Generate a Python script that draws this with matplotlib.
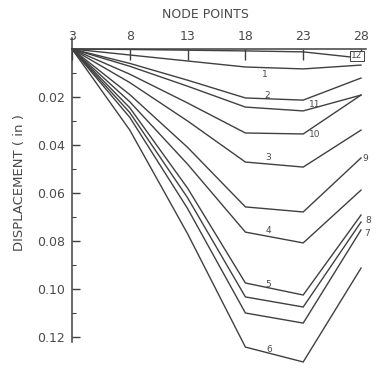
import matplotlib
matplotlib.use("Agg")
import matplotlib.pyplot as plt
from matplotlib.ticker import FixedLocator

# ---- data ----
nodes = [3, 8, 13, 18, 23, 28]
curve_1 = [0, 0.0025, 0.0050, 0.0075, 0.0083, 0.0067]
curve_2 = [0, 0.0060, 0.0130, 0.0204, 0.0213, 0.0121]
curve_3 = [0, 0.0140, 0.0300, 0.0471, 0.0492, 0.0338]
curve_4 = [0, 0.0220, 0.0480, 0.0763, 0.0808, 0.0588]
curve_5 = [0, 0.0245, 0.0580, 0.0975, 0.1025, 0.0692]
curve_6 = [0, 0.0338, 0.0770, 0.1242, 0.1304, 0.0913]
curve_7 = [0, 0.0285, 0.0665, 0.1100, 0.1142, 0.0754]
curve_8 = [0, 0.0265, 0.0620, 0.1033, 0.1075, 0.0721]
curve_9 = [0, 0.0190, 0.0410, 0.0658, 0.0679, 0.0454]
curve_10 = [0, 0.0105, 0.0225, 0.0350, 0.0354, 0.0192]
curve_11 = [0, 0.0072, 0.0155, 0.0242, 0.0258, 0.0192]
curve_12 = [0, 0.0002, 0.0005, 0.0008, 0.0012, 0.0038]
curve_names = ["1", "2", "3", "4", "5", "6", "7", "8", "9", "10", "11", "12"]
curves = [curve_1, curve_2, curve_3, curve_4, curve_5, curve_6,
          curve_7, curve_8, curve_9, curve_10, curve_11, curve_12]
x_ticks = [3, 8, 13, 18, 23, 28]
y_ticks = [0.02, 0.04, 0.06, 0.08, 0.10, 0.12]
y_tick_labels = ["0.02", "0.04", "0.06", "0.08", "0.10", "0.12"]
y_minor = [0.01, 0.03, 0.05, 0.07, 0.09, 0.11]
# label anchor positions (node, displacement)
label_pos = {
    "1": (19.7, 0.0108), "2": (19.9, 0.0192), "3": (20.0, 0.0454),
    "4": (20.0, 0.0758), "5": (20.0, 0.0980), "6": (20.1, 0.1254),
    "7": (28.5, 0.0767), "8": (28.6, 0.0713), "9": (28.35, 0.0458),
    "10": (24.0, 0.0358), "11": (24.0, 0.0233), "12": (27.65, 0.0029),
}

line_col = "#404040"
text_col = "#4a4a4a"

fig = plt.figure(figsize=(3.79, 3.70), dpi=100)
ax = fig.add_axes([0.19, 0.0081, 0.7747, 0.8984])

for vals in curves:
    ax.plot(nodes, vals, color=line_col, lw=1.0, clip_on=False, solid_joinstyle="miter")

for name in curve_names:
    xx, yy = label_pos[name]
    kw = {}
    if name == "12":
        kw["bbox"] = dict(boxstyle="square,pad=0.1", fc="white", ec=line_col, lw=0.7)
    ax.text(xx, yy, name, fontsize=6.5, color=text_col, ha="center", va="center", **kw)

ax.set_xlim(3, 28.4)
ax.set_ylim(0.1325, -0.006)

ax.spines["right"].set_visible(False)
ax.spines["bottom"].set_visible(False)
ax.spines["top"].set_position(("data", 0))
ax.spines["left"].set_bounds(-0.0045, 0.122)
for s in ("top", "left"):
    ax.spines[s].set_color(line_col)
    ax.spines[s].set_linewidth(1.1)

ax.xaxis.set_ticks_position("top")
ax.xaxis.set_label_position("top")
ax.set_xticks(x_ticks)
ax.set_xticklabels([str(v) for v in x_ticks])
ax.tick_params(axis="x", direction="in", length=8, width=1.0, color=line_col,
               labelsize=9, labelcolor=text_col, pad=4)

ax.yaxis.set_major_locator(FixedLocator(y_ticks))
ax.set_yticklabels(y_tick_labels)
ax.yaxis.set_minor_locator(FixedLocator(y_minor))
ax.tick_params(axis="y", which="major", direction="in", length=6, width=1.0,
               color=line_col, labelsize=9, labelcolor=text_col, pad=5)
ax.tick_params(axis="y", which="minor", direction="in", length=3, width=0.8,
               color=line_col)

fig.text(205 / 379, 1 - 14 / 370, "NODE POINTS", fontsize=9, color=text_col,
         ha="center", va="center")
fig.text(20 / 379, 1 - 183 / 370, "DISPLACEMENT ( in )", fontsize=9.5, color=text_col,
         ha="center", va="center", rotation=90)

fig.savefig("out.png", dpi=100)
